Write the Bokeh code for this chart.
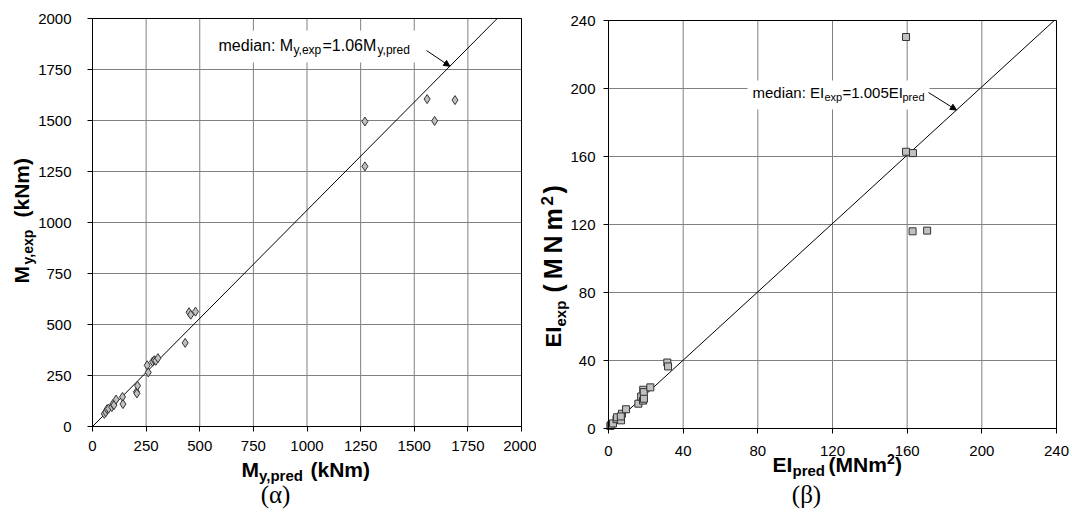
import math
from bokeh.plotting import figure
from bokeh.layouts import row
from bokeh.models import (Range1d, FixedTicker, Label, BoxAnnotation, Arrow, NormalHead,
                          LinearAxis)
from bokeh.embed import file_html
from bokeh.resources import INLINE

# ---------------- data ----------------
my_pred = [55, 62, 68, 75, 90, 95, 100, 110, 140, 142, 205, 207, 210, 255, 260,
           280, 288, 295, 305, 432, 450, 458, 480, 1270, 1270, 1560, 1595, 1690]
my_exp = [62, 70, 85, 88, 95, 110, 105, 132, 145, 110, 170, 162, 200, 300, 265,
          318, 325, 322, 335, 410, 560, 548, 563, 1495, 1275, 1605, 1498, 1600]
ei_pred = [1.0, 1.5, 2.4, 4.3, 4.6, 6.7, 7.2, 6.6, 9.4, 16.0, 17.5, 18.5, 18.6,
           18.9, 19.0, 22.4, 31.5, 31.9, 159.4, 159.4, 163.1, 162.9, 170.7]
ei_exp = [1.5, 2.2, 3.0, 5.5, 6.6, 4.8, 8.7, 7.1, 11.3, 14.6, 18.8, 16.4, 22.8,
          21.4, 17.5, 24.2, 38.8, 36.5, 230.3, 162.8, 162.0, 116.0, 116.4]
my_ticks = [0, 250, 500, 750, 1000, 1250, 1500, 1750, 2000]
ei_ticks = [0, 40, 80, 120, 160, 200, 240]
my_median = 1.06
ei_median = 1.005

FONT = "Liberation Sans"
SERIF = "Liberation Serif"
W, H = 536, 519


def make_panel(ticks, left_px, bottom_px, frame_w, frame_h, standoff_x, standoff_y):
    lo, hi = ticks[0], ticks[-1]
    kx = frame_w / (hi - lo)
    ky = frame_h / (hi - lo)
    xr = Range1d(lo - left_px / kx, hi + (W - left_px - frame_w) / kx)
    top_px = bottom_px - frame_h
    yr = Range1d(lo - (H - bottom_px) / ky, hi + top_px / ky)
    p = figure(width=W, height=H, x_range=xr, y_range=yr,
               x_axis_location=None, y_axis_location=None,
               output_backend="svg", toolbar_location=None,
               min_border_left=0, min_border_right=0, min_border_top=0, min_border_bottom=0)
    p.grid.visible = False
    p.outline_line_color = None
    p.background_fill_color = "white"
    p.border_fill_color = "white"

    # grid lines from the tick arrays
    n = len(ticks)
    p.segment(x0=ticks, y0=[lo] * n, x1=ticks, y1=[hi] * n, line_color="#808080", line_width=1)
    p.segment(x0=[lo] * n, y0=ticks, x1=[hi] * n, y1=ticks, line_color="#808080", line_width=1)

    xa = LinearAxis(fixed_location=lo, bounds=(lo, hi))
    ya = LinearAxis(fixed_location=lo, bounds=(lo, hi))
    for ax in (xa, ya):
        ax.ticker = FixedTicker(ticks=ticks, minor_ticks=[])
        ax.major_tick_out = 5
        ax.major_tick_in = 0
        ax.minor_tick_out = 0
        ax.minor_tick_in = 0
        ax.axis_line_color = "black"
        ax.major_tick_line_color = "black"
        ax.major_label_text_font = FONT
        ax.major_label_text_font_size = "15px"
        ax.major_label_text_color = "black"
    xa.major_label_standoff = standoff_x
    ya.major_label_standoff = standoff_y
    p.add_layout(xa, "below")
    p.add_layout(ya, "left")
    p.add_layout(BoxAnnotation(left=lo, right=hi, bottom=lo, top=hi, fill_alpha=0,
                               line_color="black", line_width=1, line_alpha=1))

    def conv(X, Y):
        return (lo + (X - left_px) / kx, lo + (bottom_px - Y) / ky)
    return p, conv


def add_text(p, conv, X, Y, s, size, bold=False, rotated=False, align="left",
             baseline="alphabetic", font=FONT):
    # (X, Y): intended baseline position in window pixels
    if baseline == "alphabetic":
        if rotated:
            X = X - 0.4 * size
        else:
            Y = Y - 0.4 * size
    x, y = conv(X, Y)
    p.add_layout(Label(x=x, y=y, text=s, text_font=font, text_font_size=f"{size}px",
                       text_font_style="bold" if bold else "normal",
                       angle=math.pi / 2 if rotated else 0.0,
                       text_align=align, text_baseline=baseline, text_color="black"))


# ---------------- left panel ----------------
p1, conv1 = make_panel(my_ticks, 92, 426, 429, 408, 9, 16)

x_end1 = my_ticks[-1] / my_median
p1.line([0, x_end1], [0, my_median * x_end1], line_color="black", line_width=1)
p1.scatter(my_pred, my_exp, marker="diamond", size=9, fill_color="#c0c0c0",
           line_color="#333333", line_width=1)

bx0, by0 = conv1(205, 62)
bx1, by1 = conv1(421, 30)
p1.add_layout(BoxAnnotation(left=bx0, right=bx1, bottom=by0, top=by1,
                            fill_color="white", fill_alpha=1, line_alpha=0))
add_text(p1, conv1, 218, 51, "median: M", 16)
add_text(p1, conv1, 293, 54, "y,exp", 12)
add_text(p1, conv1, 322, 51, "=1.06M", 16)
add_text(p1, conv1, 377, 54, "y,pred", 12)
ax0, ay0 = conv1(426, 50)
ax1 = 1666
p1.add_layout(Arrow(end=NormalHead(size=6, fill_color="black", line_color="black"),
                    x_start=ax0, y_start=ay0, x_end=ax1, y_end=my_median * ax1,
                    line_color="black", line_width=1))

# axis titles
add_text(p1, conv1, 241, 477, "M", 21, bold=True)
add_text(p1, conv1, 258.5, 481, "y,pred", 15, bold=True)
add_text(p1, conv1, 310, 477, "(kNm)", 21, bold=True)
add_text(p1, conv1, 29, 283, "M", 21, bold=True, rotated=True)
add_text(p1, conv1, 33, 264, "y,exp", 14, bold=True, rotated=True)
add_text(p1, conv1, 29, 217, "(kNm)", 21, bold=True, rotated=True)
add_text(p1, conv1, 275, 494, "(α)", 25, align="center", baseline="middle", font=SERIF)

# ---------------- right panel ----------------
# pixel positions below are given in window coordinates; this canvas starts at x=536
def conv2w(X, Y):
    return conv2(X - W, Y)


p2, conv2 = make_panel(ei_ticks, 608 - W, 428, 448, 408, 12, 8)

x_end2 = ei_ticks[-1] / ei_median
p2.line([0, x_end2], [0, ei_median * x_end2], line_color="black", line_width=1)
p2.scatter(ei_pred, ei_exp, marker="square", size=7, fill_color="#c0c0c0",
           line_color="#333333", line_width=1)

bx0, by0 = conv2w(747, 109)
bx1, by1 = conv2w(929, 80)
p2.add_layout(BoxAnnotation(left=bx0, right=bx1, bottom=by0, top=by1,
                            fill_color="white", fill_alpha=1, line_alpha=0))
add_text(p2, conv2w, 752, 98, "median: EI", 15)
add_text(p2, conv2w, 824, 101, "exp", 11)
add_text(p2, conv2w, 842, 98, "=1.005EI", 15)
add_text(p2, conv2w, 902, 101, "pred", 11)
ax0, ay0 = conv2w(928, 92)
ax1 = 186.4
p2.add_layout(Arrow(end=NormalHead(size=6, fill_color="black", line_color="black"),
                    x_start=ax0, y_start=ay0, x_end=ax1, y_end=ei_median * ax1,
                    line_color="black", line_width=1))

add_text(p2, conv2w, 772, 472, "EI", 21, bold=True)
add_text(p2, conv2w, 792, 476, "pred", 15, bold=True)
add_text(p2, conv2w, 828, 472, "(MNm", 21, bold=True)
add_text(p2, conv2w, 886.5, 464, "2", 14, bold=True)
add_text(p2, conv2w, 894.5, 472, ")", 21, bold=True)

add_text(p2, conv2w, 562, 347, "EI", 22, bold=True, rotated=True)
add_text(p2, conv2w, 566, 326, "exp", 15, bold=True, rotated=True)
for ch, cy in zip(["(", "M", "N", "m"], [292, 278.7, 252.9, 229.9]):
    add_text(p2, conv2w, 562, cy, ch, 25, bold=True, rotated=True)
add_text(p2, conv2w, 553, 205, "2", 17, bold=True, rotated=True)
add_text(p2, conv2w, 562, 193, ")", 25, bold=True, rotated=True)
add_text(p2, conv2w, 806, 494, "(β)", 25, align="center", baseline="middle", font=SERIF)

layout = row(p1, p2)
open("out.html", "w").write(file_html(layout, INLINE))
